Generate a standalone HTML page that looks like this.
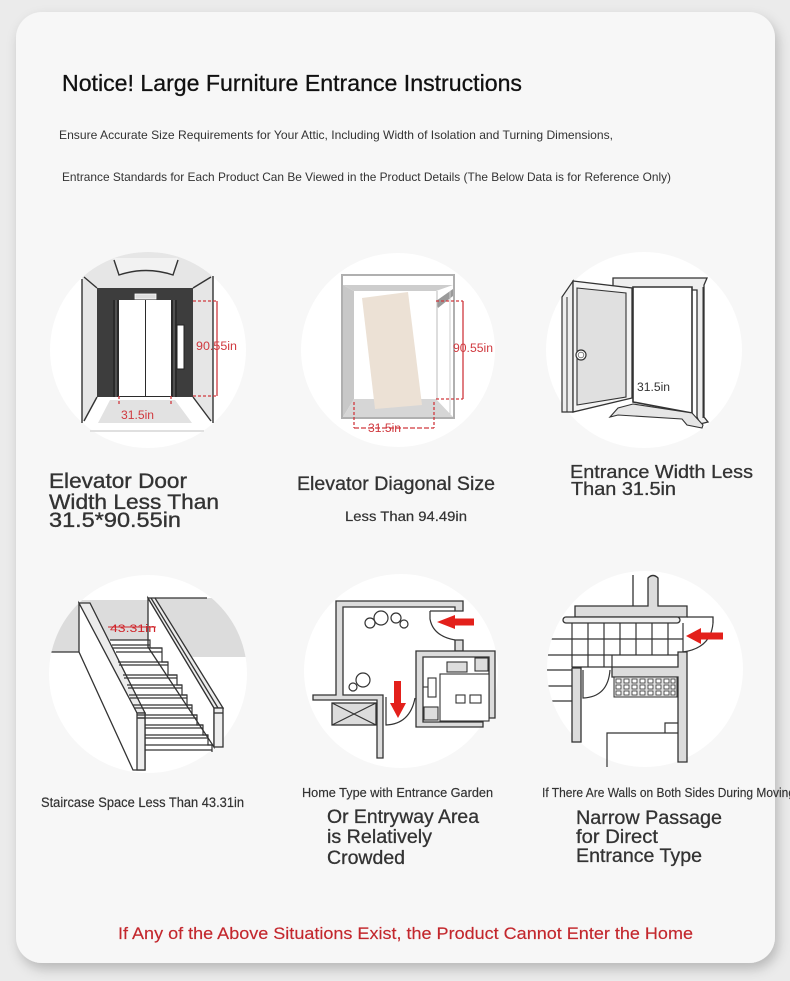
<!DOCTYPE html>
<html><head><meta charset="utf-8"><style>
html,body{margin:0;padding:0;background:#ebebeb;}
svg{display:block;}
text{font-family:"Liberation Sans",Arial,sans-serif;}
</style></head><body>
<svg width="790" height="981" viewBox="0 0 790 981" xmlns="http://www.w3.org/2000/svg">
<defs>
<filter id="sh" x="-5%" y="-5%" width="112%" height="112%"><feDropShadow dx="3" dy="6" stdDeviation="6" flood-color="#000" flood-opacity="0.22"/></filter>
<clipPath id="c1"><circle cx="148" cy="350" r="98"/></clipPath>
<clipPath id="c4"><circle cx="148" cy="674" r="99"/></clipPath>
<clipPath id="c6"><circle cx="645" cy="669" r="98"/></clipPath>
</defs>
<rect width="790" height="981" fill="#ebebeb"/>
<rect x="16" y="12" width="759" height="951" rx="26" fill="#f7f7f7" filter="url(#sh)"/>

<!-- Header text -->
<text x="62" y="91" font-size="23.5" fill="#111" stroke="#111" stroke-width="0.3" textLength="460" lengthAdjust="spacingAndGlyphs">Notice! Large Furniture Entrance Instructions</text>
<text x="59" y="139" font-size="12" fill="#333" textLength="554" lengthAdjust="spacingAndGlyphs">Ensure Accurate Size Requirements for Your Attic, Including Width of Isolation and Turning Dimensions,</text>
<text x="62" y="181" font-size="12" fill="#333" textLength="609" lengthAdjust="spacingAndGlyphs">Entrance Standards for Each Product Can Be Viewed in the Product Details (The Below Data is for Reference Only)</text>

<!-- ===== Illustration 1: elevator door ===== -->
<circle cx="148" cy="350" r="98" fill="#fff"/>
<g clip-path="url(#c1)">
  <path d="M82,250 H213 V423 L193,397 V288 H97 V397 L82,423 Z" fill="#e6e6e6"/>
  <path d="M114,258 L119,275 Q146,266 173,275 L178,258 Z" fill="#f2f2f2"/>
</g>
<g stroke="#333" stroke-width="1.4" fill="none">
  <path d="M114,260 L119,275 Q146,266 173,275 L178,260"/>
  <path d="M82,279 V423"/>
  <path d="M213,276 V423"/>
  <path d="M84,277 L97,288"/>
  <path d="M211,277 L193,288"/>
  <path d="M97,397 L84,421"/>
  <path d="M193,397 L211,421"/>
</g>
<rect x="97" y="288" width="96" height="109" fill="#3d3d3d"/>
<rect x="113" y="300" width="64" height="97" fill="#2b2b2b"/>
<rect x="119" y="300" width="26" height="96" fill="#fff"/>
<rect x="146" y="300" width="25" height="96" fill="#fff"/>
<line x1="116" y1="300" x2="116" y2="397" stroke="#777" stroke-width="1"/>
<line x1="174" y1="300" x2="174" y2="397" stroke="#777" stroke-width="1"/>
<rect x="135" y="294" width="21" height="5" fill="#ddd" stroke="#fff" stroke-width="0.8"/>
<rect x="177" y="325" width="7" height="44" fill="#fff" stroke="#222" stroke-width="1"/>
<polygon points="110,400 175,400 192,423 98,423" fill="#e2e2e2"/>
<line x1="90" y1="431" x2="204" y2="431" stroke="#e0e0e0" stroke-width="2"/>
<g stroke="#d0393f" stroke-width="1.3" fill="none">
  <path d="M193,301 H217 M193,396 H217" stroke-dasharray="3,2"/>
  <path d="M217,301 V396"/>
  <path d="M119,396 V405 M171,396 V405" stroke-dasharray="3,2"/>
</g>
<text x="196" y="350" font-size="11.5" fill="#d0393f" textLength="41" lengthAdjust="spacingAndGlyphs">90.55in</text>
<text x="121" y="419" font-size="11.5" fill="#d0393f" textLength="33" lengthAdjust="spacingAndGlyphs">31.5in</text>

<text font-size="21" fill="#333" stroke="#333" stroke-width="0.35">
  <tspan x="49" y="488" textLength="138" lengthAdjust="spacingAndGlyphs">Elevator Door</tspan>
</text>
<text x="49" y="509" font-size="21" fill="#333" stroke="#333" stroke-width="0.35" textLength="170" lengthAdjust="spacingAndGlyphs">Width Less Than</text>
<text x="49" y="527" font-size="21" fill="#333" stroke="#333" stroke-width="0.35" textLength="132" lengthAdjust="spacingAndGlyphs">31.5*90.55in</text>

<!-- ===== Illustration 2: elevator diagonal ===== -->
<circle cx="398" cy="350" r="97" fill="#fff"/>
<rect x="342" y="275" width="112" height="143" fill="#fff" stroke="#b0b0b0" stroke-width="2"/>
<polygon points="343,285 453,285 436,291 354,291" fill="#cdcdcd"/>
<polygon points="343,285 354,291 354,399 343,417" fill="#c8c8c8"/>
<polygon points="436,301 453,289 453,296 438,308" fill="#9a9a9a"/>
<line x1="437" y1="291" x2="437" y2="399" stroke="#bbb" stroke-width="1"/>
<line x1="450" y1="291" x2="450" y2="415" stroke="#ccc" stroke-width="1"/>
<polygon points="354,399 436,399 453,417 343,417" fill="#d6d6d6"/>
<polygon points="362,298 408,292 422,405 375,409" fill="#ece1d5"/>
<g stroke="#d0393f" stroke-width="1.3" fill="none">
  <path d="M436,301 H463 M436,399 H463" stroke-dasharray="3,2"/>
  <path d="M463,301 V399"/>
  <path d="M354,402 V428 M434,402 V428" stroke-dasharray="3,2"/>
  <path d="M354,428 H434" stroke-dasharray="5,2"/>
</g>
<text x="453" y="352" font-size="11.5" fill="#d0393f" textLength="40" lengthAdjust="spacingAndGlyphs">90.55in</text>
<text x="368" y="432" font-size="11.5" fill="#d0393f" textLength="33" lengthAdjust="spacingAndGlyphs">31.5in</text>

<text x="297" y="490" font-size="19.5" fill="#333" stroke="#333" stroke-width="0.3" textLength="198" lengthAdjust="spacingAndGlyphs">Elevator Diagonal Size</text>
<text x="345" y="521" font-size="14" fill="#333" stroke="#333" stroke-width="0.2" textLength="122" lengthAdjust="spacingAndGlyphs">Less Than 94.49in</text>

<!-- ===== Illustration 3: door ===== -->
<circle cx="644" cy="350" r="98" fill="#fff"/>
<polygon points="613,278 707,278 704,285 704,417 708,422 700,424 697,417 697,290 613,290" fill="#eee" stroke="#333" stroke-width="1.3"/>
<line x1="703" y1="287" x2="703" y2="418" stroke="#333" stroke-width="1"/>
<polygon points="633,287 692,287 692,413 633,402" fill="#fff" stroke="#333" stroke-width="1.6"/>
<polygon points="610,417 618,408 633,404 692,413 703,425 702,428 687,425 682,419 618,415" fill="#e6e6e6" stroke="#333" stroke-width="1.1"/>
<polygon points="562,297 573,281 573,412 562,412" fill="#eee" stroke="#333" stroke-width="1.2"/>
<line x1="567" y1="297" x2="567" y2="412" stroke="#333" stroke-width="1"/>
<polygon points="573,281 632,288 632,398 573,412" fill="#f4f4f4" stroke="#333" stroke-width="1.3"/>
<polygon points="577,288 626,293 626,397 577,405" fill="#e0e0e0" stroke="#333" stroke-width="1.1"/>
<circle cx="581" cy="355" r="5" fill="#fff" stroke="#333" stroke-width="1.2"/>
<circle cx="581" cy="355" r="2.8" fill="#fff" stroke="#666" stroke-width="0.8"/>
<text x="637" y="391" font-size="11.5" fill="#333" textLength="33" lengthAdjust="spacingAndGlyphs">31.5in</text>

<text x="570" y="478" font-size="18.5" fill="#333" stroke="#333" stroke-width="0.3" textLength="183" lengthAdjust="spacingAndGlyphs">Entrance Width Less</text>
<text x="571" y="495" font-size="18.5" fill="#333" stroke="#333" stroke-width="0.3" textLength="105" lengthAdjust="spacingAndGlyphs">Than 31.5in</text>

<!-- ===== Illustration 4: staircase ===== -->
<circle cx="148" cy="674" r="99" fill="#fff"/>
<g clip-path="url(#c4)">
  <rect x="40" y="598" width="40" height="54" fill="#dcdcdc"/>
  <rect x="80" y="600" width="68" height="40" fill="#dcdcdc"/>
  <rect x="155" y="598" width="100" height="59" fill="#dcdcdc"/>
  <line x1="40" y1="652" x2="80" y2="652" stroke="#333" stroke-width="1.3"/>
</g>
<g stroke="#333" stroke-width="1.3">
  <line x1="155" y1="598" x2="207" y2="598"/>
  <polygon points="79,603 79,652 133,770 145,770 145,713" fill="#fff"/>
  <polygon points="79,603 90,603 145,713 137,713" fill="#ececec"/>
  <rect x="137" y="713" width="8" height="57" fill="#eee"/>
  <line x1="137" y1="718" x2="145" y2="718"/>
  <polygon points="148,598 148,647 214,747 214,708" fill="#fff"/>
  <polygon points="148,598 155,598 223,708 214,708" fill="#ececec"/>
  <line x1="151" y1="598" x2="218" y2="708"/>
  <rect x="214" y="708" width="9" height="39" fill="#eee"/>
  <line x1="214" y1="713" x2="223" y2="713"/>
</g>
<g stroke="#333" stroke-width="1.2" fill="none">
  <path d="M110,640 H150 V648 H162 V662 H168 V675 H177 V685 H182 V695 H187 V705 H192 V715 H197 V725 H203 V735 H208 V745 H212 V752"/>
  <path d="M112,645 H150 M113,648 H162 M116,652 H162 M118,662 H168 M119,665 H168 M123,675 H177 M124,678 H177 M127,685 H182 M128,688 H182 M129,695 H187 M130,698 H187 M133,705 H192 M134,708 H192 M137,715 H197 M138,718 H197 M145,725 H203 M145,728 H203 M145,735 H208 M145,738 H208 M145,745 H212 M145,750 H212"/>
</g>
<text x="110" y="632" font-size="11" fill="#d0242a" textLength="46" lengthAdjust="spacingAndGlyphs">43.31in</text>
<line x1="108" y1="627" x2="156" y2="627" stroke="#d0242a" stroke-width="1"/>

<text x="41" y="807" font-size="13.5" fill="#333" stroke="#333" stroke-width="0.2" textLength="203" lengthAdjust="spacingAndGlyphs">Staircase Space Less Than 43.31in</text>

<!-- ===== Illustration 5: floor plan ===== -->
<circle cx="401" cy="671" r="97" fill="#fff"/>
<g stroke="#333" stroke-width="1.3" fill="#dcdcdc">
  <path d="M463,601 H336 V695 H313 V700 H377 V758 H383 V695 H343 V607 H455 V611 H463 Z"/>
  <path d="M455,640 H463 V651 H455 Z"/>
  <path d="M416,651 H495 V718 H489 V657 H423 V722 H483 V727 H416 Z"/>
  <rect x="332" y="703" width="44" height="22"/>
</g>
<g stroke="#333" stroke-width="1.2" fill="none">
  <path d="M332,703 L376,725 M376,703 L332,725"/>
  <path d="M430,611 H455 M430,611 V619 Q433,636 455,640"/>
  <path d="M386,697 V725 Q410,724 415,698"/>
  <circle cx="370" cy="623" r="5"/>
  <circle cx="381" cy="618" r="7"/>
  <circle cx="396" cy="618" r="5"/>
  <circle cx="404" cy="624" r="4"/>
  <circle cx="353" cy="687" r="4"/>
  <circle cx="363" cy="680" r="7"/>
</g>
<g stroke="#333" stroke-width="1.1">
  <rect x="447" y="662" width="20" height="10" fill="#ddd"/>
  <rect x="475" y="658" width="13" height="13" fill="#ddd"/>
  <rect x="440" y="674" width="49" height="47" fill="#fff"/>
  <rect x="456" y="695" width="9" height="8" fill="#fff"/>
  <rect x="470" y="695" width="11" height="8" fill="#fff"/>
  <rect x="428" y="678" width="8" height="19" fill="#fff"/>
  <line x1="423" y1="687" x2="428" y2="687"/>
  <rect x="424" y="707" width="14" height="13" fill="#ddd"/>
</g>
<polygon points="437,622 455,615 455,618.5 474,618.5 474,625.5 455,625.5 455,629" fill="#e3201b"/>
<polygon points="394,681 401,681 401,703 406,703 398,718 390,703 394,703" fill="#e3201b"/>

<text x="302" y="797" font-size="12.5" fill="#333" stroke="#333" stroke-width="0.15" textLength="191" lengthAdjust="spacingAndGlyphs">Home Type with Entrance Garden</text>
<text x="327" y="823" font-size="19.5" fill="#333" stroke="#333" stroke-width="0.3" textLength="152" lengthAdjust="spacingAndGlyphs">Or Entryway Area</text>
<text x="327" y="843" font-size="19.5" fill="#333" stroke="#333" stroke-width="0.3" textLength="105" lengthAdjust="spacingAndGlyphs">is Relatively</text>
<text x="327" y="864" font-size="19.5" fill="#333" stroke="#333" stroke-width="0.3" textLength="78" lengthAdjust="spacingAndGlyphs">Crowded</text>

<!-- ===== Illustration 6: narrow passage ===== -->
<circle cx="645" cy="669" r="98" fill="#fff"/>
<g clip-path="url(#c6)">
  <g stroke="#333" stroke-width="1.2" fill="none">
    <path d="M540,639 H683 M540,655 H678 M540,670 H572 M540,686 H572 M540,701 H572"/>
  </g>
</g>
<g stroke="#333" stroke-width="1.3">
  <line x1="633" y1="575" x2="633" y2="606" fill="none"/>
  <path d="M575,606 H648 V578 Q653,573 658,578 V606 H687 V617 H575 Z" fill="#dcdcdc"/>
  <path d="M687,617 H713 V623" fill="none"/>
  <rect x="563" y="617" width="117" height="6" rx="3" fill="#eee"/>
  <path d="M678,652 H687 V762 H678 V677 H612 V667 H678 Z" fill="#dcdcdc"/>
  <rect x="572" y="668" width="9" height="74" fill="#dcdcdc"/>
</g>
<g stroke="#333" stroke-width="1.2" fill="none">
  <path d="M572,623 V667 M588,623 V667 M604,623 V667 M620,623 V655 M636,623 V655 M652,623 V655 M668,623 V655 M683,623 V652"/>
  <path d="M612,655 V667 M572,667 H612"/>
  <path d="M683,652 Q711,648 713,623"/>
  <path d="M583,670 V698 Q608,697 610,670"/>
  <path d="M607,767 V733 H665 V723 H678 M665,733 H678"/>
</g>
<rect x="614" y="677" width="63" height="20" fill="#e4e4e4" stroke="#333" stroke-width="1"/>
<g stroke="#333" stroke-width="0.8" fill="#fff">
  <rect x="616" y="679" width="5" height="4"/><rect x="624" y="679" width="5" height="4"/><rect x="632" y="679" width="5" height="4"/><rect x="640" y="679" width="5" height="4"/><rect x="648" y="679" width="5" height="4"/><rect x="656" y="679" width="5" height="4"/><rect x="664" y="679" width="5" height="4"/><rect x="671" y="679" width="4" height="4"/>
  <rect x="616" y="685" width="5" height="4"/><rect x="624" y="685" width="5" height="4"/><rect x="632" y="685" width="5" height="4"/><rect x="640" y="685" width="5" height="4"/><rect x="648" y="685" width="5" height="4"/><rect x="656" y="685" width="5" height="4"/><rect x="664" y="685" width="5" height="4"/><rect x="671" y="685" width="4" height="4"/>
  <rect x="616" y="691" width="5" height="4"/><rect x="624" y="691" width="5" height="4"/><rect x="632" y="691" width="5" height="4"/><rect x="640" y="691" width="5" height="4"/><rect x="648" y="691" width="5" height="4"/><rect x="656" y="691" width="5" height="4"/><rect x="664" y="691" width="5" height="4"/><rect x="671" y="691" width="4" height="4"/>
</g>
<polygon points="686,636 701,628 701,632.5 723,632.5 723,639.5 701,639.5 701,644" fill="#e3201b"/>

<text x="542" y="797" font-size="12.5" fill="#333" stroke="#333" stroke-width="0.15" textLength="253" lengthAdjust="spacingAndGlyphs">If There Are Walls on Both Sides During Moving</text>
<text x="576" y="824" font-size="19.5" fill="#333" stroke="#333" stroke-width="0.3" textLength="146" lengthAdjust="spacingAndGlyphs">Narrow Passage</text>
<text x="576" y="843" font-size="19.5" fill="#333" stroke="#333" stroke-width="0.3" textLength="82" lengthAdjust="spacingAndGlyphs">for Direct</text>
<text x="576" y="862" font-size="19.5" fill="#333" stroke="#333" stroke-width="0.3" textLength="126" lengthAdjust="spacingAndGlyphs">Entrance Type</text>

<!-- Footer -->
<text x="118" y="939" font-size="17" fill="#c3272d" stroke="#c3272d" stroke-width="0.15" textLength="575" lengthAdjust="spacingAndGlyphs">If Any of the Above Situations Exist, the Product Cannot Enter the Home</text>
</svg>
</body></html>
